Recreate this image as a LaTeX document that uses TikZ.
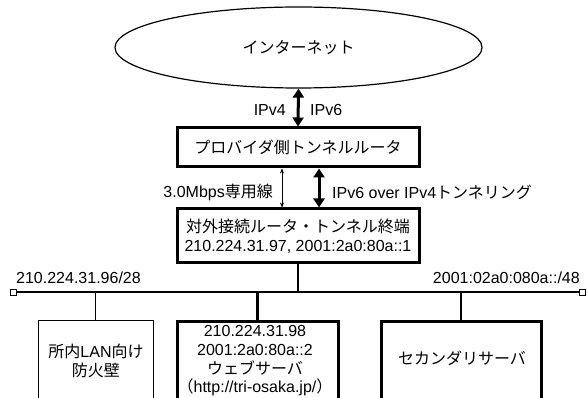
\documentclass[tikz,border=0pt]{standalone}
\usepackage{fontspec}
\setmainfont{Liberation Sans}
\newfontfamily\jpf{Noto Sans CJK JP}
\newcommand\jp[1]{{\jpf #1}}
\usetikzlibrary{arrows.meta,shapes.geometric}
\begin{document}
\begin{tikzpicture}[x=1pt,y=-1pt,
  every node/.style={font=\fontsize{16}{18.7}\selectfont, inner sep=0pt},
  thickbox/.style={draw, line width=3pt},
  thinbox/.style={draw, line width=1pt},
  bigarrow/.style={line width=3pt, {Triangle[width=11pt,length=9pt]}-{Triangle[width=11pt,length=9pt]}},
  smallarrow/.style={line width=0.8pt, {Stealth[width=4pt,length=5pt]}-{Stealth[width=4pt,length=5pt]}},
  endsq/.style={draw, line width=0.8pt, fill=white, minimum size=6pt},
  busline/.style={line width=2pt},
  thickdrop/.style={line width=2.5pt},
  thindrop/.style={line width=1pt}
]
\useasboundingbox (0,0) rectangle (587,398);
\clip (0,0) rectangle (587,398);

% Internet cloud
\node[ellipse, draw, line width=1.2pt, minimum width=367pt, minimum height=81pt] (inet) at (298.5,47.5) {\jp{インターネット}};

% Provider tunnel router
\node[thickbox, minimum width=242pt, minimum height=39pt] (prov) at (298,147.5) {\jp{プロバイダ側トンネルルータ}};

% External router
\node[thickbox, minimum width=242pt, minimum height=54pt, align=center] (router) at (298,236)
  {\jp{対外接続ルータ・トンネル終端}\\210.224.31.97, 2001:2a0:80a::1};

% Arrows
\draw[bigarrow] (inet.south) -- (prov.north);
\node[anchor=east] (lv4) at (286,110) {IPv4};
\node[anchor=west] (lv6) at (310,110) {IPv6};

\draw[smallarrow] ([xshift=-16pt]prov.south) -- ([xshift=-16pt]router.north);
\draw[bigarrow] ([xshift=21pt]prov.south) -- ([xshift=21pt]router.north);
\node[anchor=east] (lline) at (273,192) {3.0Mbps\jp{専用線}};
\node[anchor=west] (ltun) at (332,192) {IPv6 over IPv4\jp{トンネリング}};

% Bus
\node[endsq] (sqL) at (13,292) {};
\node[endsq] (sqR) at (582,292) {};
\draw[busline] (sqL.east) -- (sqR.west);
\node[anchor=west] (netv4) at (16,278) {210.224.31.96/28};
\node[anchor=east] (netv6) at (580,278) {2001:02a0:080a::/48};
\draw[thickdrop] (router.south) -- (router.south |- sqL);

% Lower boxes
\node[thinbox, minimum width=115pt, minimum height=100pt, anchor=north] (fw) at (95.5,320) {};
\node[thickbox, minimum width=161pt, minimum height=100pt, anchor=north] (web) at (257.5,320) {};
\node[thickbox, minimum width=160pt, minimum height=100pt, anchor=north] (sec) at (461,320) {};

\node[align=center] (fwtxt) at (96,361) {\jp{所内}LAN\jp{向け}\\\jp{防火壁}};
\node[align=center] (webtxt) at (255,361) {210.224.31.98\\2001:2a0:80a::2\\\jp{ウェブサーバ}\\\jp{（}http://tri-osaka.jp/\jp{）}};
\node (sectxt) at (462,358) {\jp{セカンダリサーバ}};

\draw[thindrop] (fw.north) -- (fw.north |- sqL);
\draw[thickdrop] (web.north) -- (web.north |- sqL);
\draw[thickdrop] (sec.north) -- (sec.north |- sqL);
\end{tikzpicture}
\end{document}
